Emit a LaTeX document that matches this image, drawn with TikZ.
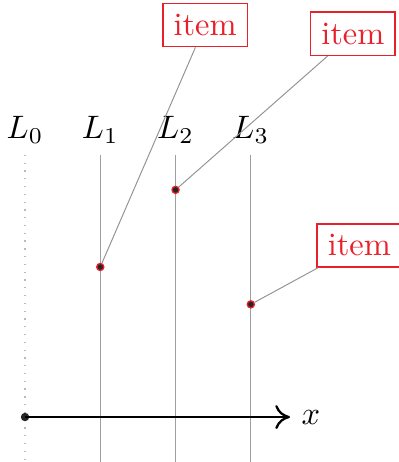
\documentclass[tikz,border=0pt]{standalone}
\usepackage{amsmath}
\usepackage{tikz}
\usetikzlibrary{positioning,arrows.meta}
\definecolor{itemred}{RGB}{232,32,44}
\tikzset{
  level/.style={draw=gray!75,line width=0.35pt},
  ghost/.style={draw=gray!55,dotted,line width=0.4pt},
  tag/.style={draw=itemred,text=itemred,line width=0.5pt,inner sep=3.3pt},
  pin/.style={draw=gray!85,line width=0.3pt},
  hit/.style={circle,fill=black!85,draw=itemred,line width=0.4pt,inner sep=0pt,minimum size=2.2pt},
  axis/.style={-{To[length=1.6mm,width=2.6mm]},line width=0.7pt},
}
\begin{document}
\begin{tikzpicture}
  \useasboundingbox (-0.271,-0.487) rectangle (4.04,4.516);
  % levels
  \coordinate (t0) at (0,2.84);
  \coordinate (b0) at (0,-0.49);
  \draw[ghost] (t0) -- (b0);
  \node[above=0pt of t0] (l0) {$L_0$};
  \foreach \i/\x in {1/0.815,2/1.63,3/2.445} {
    \coordinate (t\i) at (\x,2.84);
    \coordinate (b\i) at (\x,-0.49);
    \draw[level] (t\i) -- (b\i);
    \node[above=0pt of t\i] (l\i) {$L_\i$};
  }
  % axis
  \node[circle,fill=black!85,inner sep=0pt,minimum size=2.6pt] (o) at (0,0) {};
  \coordinate (xend) at (2.87,0);
  \draw[axis] (o.center) -- (xend);
  \node[right=0pt of xend] (xl) {$x$};
  % items
  \node[hit] (p1) at (0.815,1.625) {};
  \node[hit] (p2) at (1.63,2.46) {};
  \node[hit] (p3) at (2.445,1.22) {};
  \node[tag] (i1) at (1.95,4.245) {item};
  \node[tag] (i2) at (3.55,4.15) {item};
  \node[tag] (i3) at (3.62,1.86) {item};
  \draw[pin] (p1) -- (i1);
  \draw[pin] (p2) -- (i2);
  \draw[pin] (p3) -- (i3);
\end{tikzpicture}
\end{document}
